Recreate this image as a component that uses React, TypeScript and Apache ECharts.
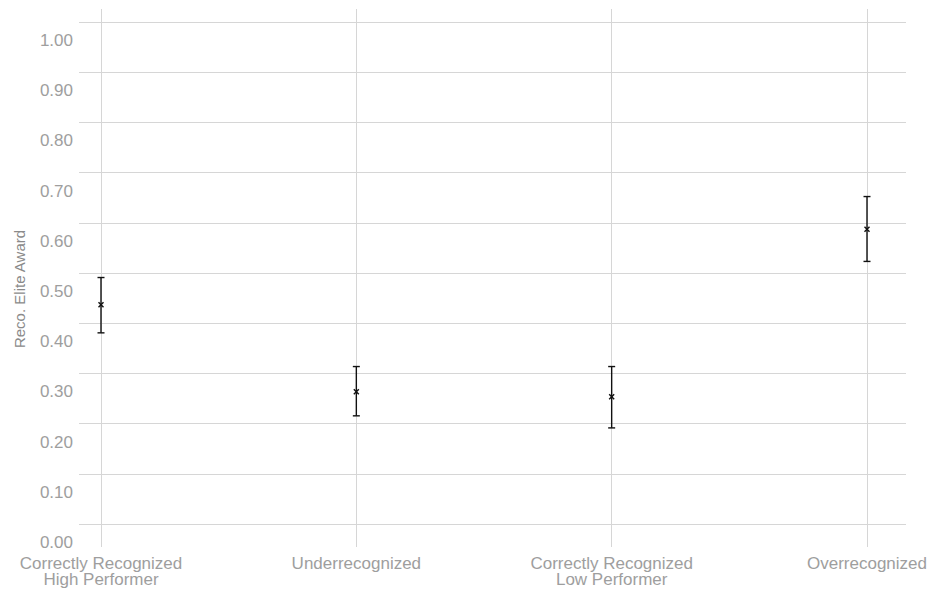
import React, { useEffect, useRef } from "react";
import * as echarts from "echarts";

const categories = [
  "Correctly Recognized\nHigh Performer",
  "Underrecognized",
  "Correctly Recognized\nLow Performer",
  "Overrecognized",
];
const means = [0.438, 0.265, 0.255, 0.588];
const lowers = [0.382, 0.217, 0.193, 0.524];
const uppers = [0.492, 0.315, 0.315, 0.653];
const yTitle = "Reco. Elite Award";

const GRID_COLOR = "#d6d6d6";
const LABEL_COLOR = "#9e9e9e";

export default function App() {
  const ref = useRef<HTMLDivElement>(null);
  useEffect(() => {
    if (!ref.current) return;
    const chart = echarts.init(ref.current, null, { renderer: "svg" });
    const data = categories.map((_, i) => [i, means[i], lowers[i], uppers[i]]);
    chart.setOption({
      animation: false,
      backgroundColor: "#ffffff",
      textStyle: { fontFamily: "Liberation Sans, Arial, sans-serif" },
      grid: [
        { left: 79, right: 26, top: 22, bottom: 66 },
        { left: 101, right: 65, top: 9, bottom: 43 },
      ],
      xAxis: [
        { type: "value", gridIndex: 0, show: false, min: 0, max: 1 },
        {
          type: "category",
          gridIndex: 1,
          data: categories,
          boundaryGap: false,
          axisLine: { show: false },
          axisTick: { show: false },
          splitLine: { show: true, lineStyle: { color: GRID_COLOR, width: 1 } },
          axisLabel: {
            color: LABEL_COLOR,
            fontSize: 17,
            lineHeight: 16,
            margin: 8,
            interval: 0,
            fontFamily: "Liberation Sans, Arial, sans-serif",
          },
        },
      ],
      yAxis: [
        {
          type: "value",
          gridIndex: 0,
          min: 0,
          max: 1,
          interval: 0.1,
          axisLine: { show: false },
          axisTick: { show: false },
          splitLine: { show: true, lineStyle: { color: GRID_COLOR, width: 1 } },
          axisLabel: {
            color: LABEL_COLOR,
            fontSize: 17,
            lineHeight: 17,
            margin: 6,
            verticalAlign: "top",
            padding: [10, 0, 0, 0],
            fontFamily: "Liberation Sans, Arial, sans-serif",
            formatter: (v: number) => v.toFixed(2),
          },
        },
        {
          type: "value",
          gridIndex: 1,
          min: -0.0438,
          max: 1.0259,
          show: false,
          splitLine: { show: false },
        },
      ],
      graphic: [
        {
          type: "text",
          x: 19,
          y: 289,
          rotation: Math.PI / 2,
          style: {
            text: yTitle,
            fill: "#8a8a8a",
            fontSize: 15,
            fontFamily: "Liberation Sans, Arial, sans-serif",
            align: "center",
            verticalAlign: "middle",
          },
        },
      ],
      series: [
        {
          type: "custom",
          xAxisIndex: 1,
          yAxisIndex: 1,
          data,
          encode: { x: 0, y: [1, 2, 3] },
          renderItem: (params: any, api: any) => {
            const x = api.value(0);
            const pm = api.coord([x, api.value(1)]);
            const pl = api.coord([x, api.value(2)]);
            const ph = api.coord([x, api.value(3)]);
            const hw = 3.5;
            const s = 2.5;
            const st = { stroke: "#111111", lineWidth: 1.4, fill: "none" };
            return {
              type: "group",
              children: [
                { type: "line", shape: { x1: pl[0], y1: pl[1], x2: ph[0], y2: ph[1] }, style: st },
                { type: "line", shape: { x1: ph[0] - hw, y1: ph[1], x2: ph[0] + hw, y2: ph[1] }, style: st },
                { type: "line", shape: { x1: pl[0] - hw, y1: pl[1], x2: pl[0] + hw, y2: pl[1] }, style: st },
                { type: "line", shape: { x1: pm[0] - s, y1: pm[1] - s, x2: pm[0] + s, y2: pm[1] + s }, style: st },
                { type: "line", shape: { x1: pm[0] - s, y1: pm[1] + s, x2: pm[0] + s, y2: pm[1] - s }, style: st },
              ],
            };
          },
        },
      ],
    });
    return () => chart.dispose();
  }, []);
  return (
    <div
      ref={ref}
      style={{ position: "absolute", left: 0, top: 0, width: 932, height: 590 }}
    />
  );
}
